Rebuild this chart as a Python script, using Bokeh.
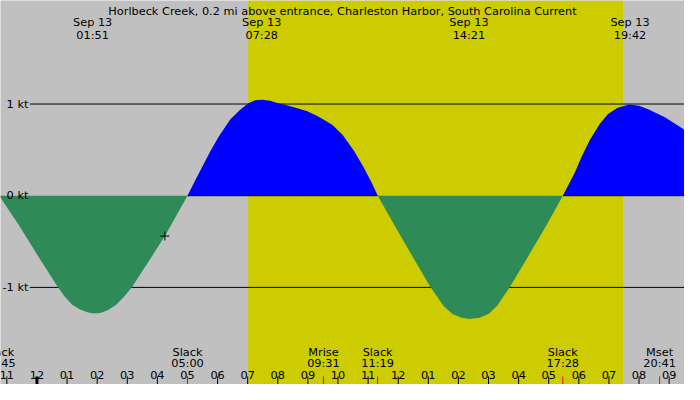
import numpy as np
from bokeh.plotting import figure
from bokeh.models import BoxAnnotation
from bokeh.core.properties import value
from bokeh.embed import file_html
from bokeh.resources import INLINE

title = "Horlbeck Creek, 0.2 mi above entrance, Charleston Harbor, South Carolina Current"

# hours after midnight Sep 13 and current in knots (+ flood, - ebb)
curve_hours = [-1.25, -0.95, -0.62, 0.03, 0.66, 0.92, 1.17, 1.45, 1.7, 1.9, 2.1, 2.35, 2.63, 2.9, 3.17, 3.82, 4.25, 4.47, 5.0,
               5.23, 5.5, 5.75, 6.04, 6.42, 6.74, 7.01, 7.25, 7.5, 7.75, 7.98, 8.36, 8.96, 9.28, 9.5, 9.82,
               10.15, 10.53, 10.85, 11.12, 11.32,
               11.89, 12.47, 13.05, 13.5, 13.8, 14.1, 14.37, 14.7, 15.0, 15.29, 15.72, 16.32, 16.91, 17.47,
               17.88, 18.1, 18.37, 18.7, 18.97, 19.29, 19.67, 20.0, 20.32, 20.86, 21.51]
curve_kt = [0, -0.15, -0.31, -0.655, -0.98, -1.1, -1.19, -1.245, -1.275, -1.285, -1.278, -1.25, -1.19, -1.1, -0.99, -0.66, -0.44, -0.31, 0,
            0.15, 0.32, 0.48, 0.645, 0.83, 0.935, 1.005, 1.04, 1.047, 1.035, 1.01, 0.98, 0.925, 0.875, 0.835, 0.77,
            0.665, 0.49, 0.31, 0.14, 0,
            -0.33, -0.66, -0.985, -1.2, -1.29, -1.33, -1.345, -1.33, -1.29, -1.2, -0.99, -0.66, -0.33, 0,
            0.26, 0.43, 0.61, 0.785, 0.89, 0.96, 0.995, 0.98, 0.94, 0.855, 0.72]

peak_date = "Sep 13"
peak_times = ["01:51", "07:28", "14:21", "19:42"]

event_names = ["Slack", "Slack", "Mrise", "Slack", "Slack", "Mset"]
event_times = ["22:45", "05:00", "09:31", "11:19", "17:28", "20:41"]
event_days = [-1, 0, 0, 0, 0, 0]

sunrise = "07:01"
sunset = "19:28"

level_kt = [1, 0, -1]
level_labels = ["1 kt", "0 kt", "-1 kt"]

hour_ticks = list(range(-1, 22))
hour_labels = ["11", "12", "01", "02", "03", "04", "05", "06", "07", "08", "09", "10",
               "11", "12", "01", "02", "03", "04", "05", "06", "07", "08", "09"]

now_h = [4.25]
now_kt = [-0.44]

GRAY = "#c0c0c0"
DAY = "#cccc00"
FLOOD = "#0000ff"
EBB = "#2e8b57"
FONT = value("DejaVu Sans")


def to_h(t, day=0):
    hh, mm = t.split(":")
    return day * 24 + int(hh) + int(mm) / 60


def ky(px):
    # vertical pixel of the 700x400 layout -> knots
    return (203.3 - px) / 95.5


hrs = np.array(curve_hours)
kt = np.array(curve_kt)

p = figure(width=684, height=384, x_range=(-1.211, 21.51), y_range=(-2.059, 2.129),
           x_axis_type=None, y_axis_type=None, toolbar_location=None, output_backend="svg",
           min_border=0, outline_line_color=None,
           background_fill_color=GRAY, border_fill_color=GRAY)

p.add_layout(BoxAnnotation(left=to_h(sunrise), right=to_h(sunset), fill_color=DAY, fill_alpha=1.0,
                           line_color=None, level="underlay"))

lv = [k for k in level_kt if k != 0]
p.segment(x0=-0.237, x1=21.6, y0=lv, y1=lv, line_color="black", line_width=1)

p.varea(x=hrs, y1=0, y2=np.maximum(kt, 0), fill_color=FLOOD)
p.line(hrs, np.where(kt >= 0, 0.0, np.nan), line_color="black", line_width=1)
p.varea(x=hrs, y1=np.minimum(kt, 0), y2=0, fill_color=EBB)

p.scatter(now_h, now_kt, marker="cross", size=9, line_color="black", line_width=1)

txt = dict(text_font=FONT, text_font_size="11.3px", text_color="black")

p.text(x=[-0.286] * 3, y=level_kt, text=level_labels, text_align="right", text_baseline="middle", **txt)

p.text(x=[10.149], y=[ky(11)], text=[title], text_align="center", text_baseline="alphabetic", **txt)

peak_h = [to_h(t) for t in peak_times]
p.text(x=peak_h, y=[ky(23.3)] * 4, text=[peak_date] * 4, text_align="center", text_baseline="alphabetic", **txt)
p.text(x=peak_h, y=[ky(36)] * 4, text=peak_times, text_align="center", text_baseline="alphabetic", **txt)

ev_h = [to_h(t, d) for t, d in zip(event_times, event_days)]
p.text(x=ev_h, y=[ky(366.7)] * len(ev_h), text=event_names, text_align="center", text_baseline="alphabetic", **txt)
p.text(x=ev_h, y=[ky(378.3)] * len(ev_h), text=event_times, text_align="center", text_baseline="alphabetic", **txt)

p.text(x=hour_ticks, y=[ky(390)] * len(hour_ticks), text=hour_labels, text_align="center",
       text_baseline="alphabetic", **txt)

tick_w = [3 if h % 24 == 0 else 1 for h in hour_ticks]
p.segment(x0=hour_ticks, x1=hour_ticks, y0=ky(391.5), y1=-2.2, line_color="black", line_width=tick_w)
p.segment(x0=ev_h, x1=ev_h, y0=ky(391.5), y1=-2.2, line_color="red", line_width=1)

open("out.html", "w").write(file_html(p, INLINE))
